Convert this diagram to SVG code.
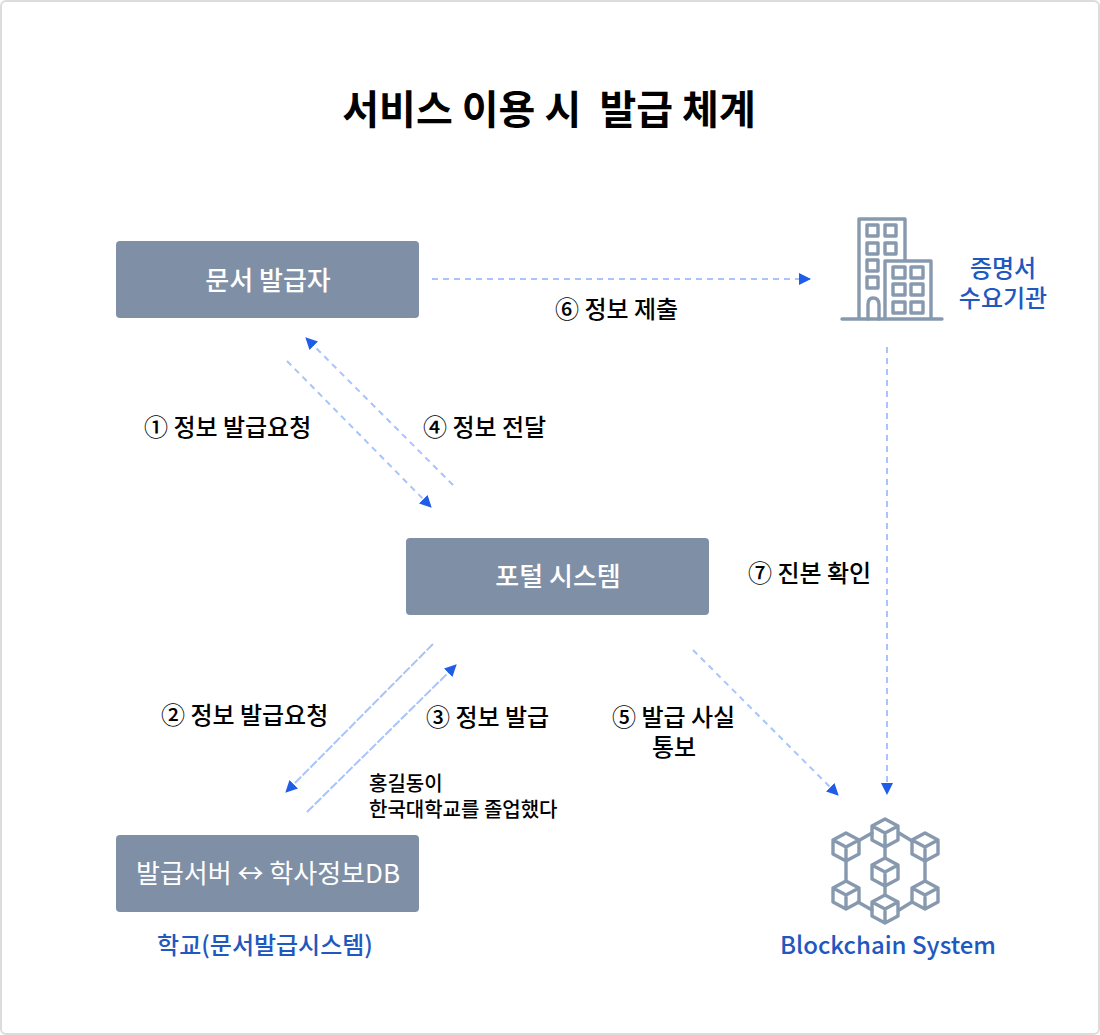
<svg xmlns="http://www.w3.org/2000/svg" width="1100" height="1035" viewBox="0 0 1100 1035">
<style>
text{font-family:"Noto Sans CJK KR","Noto Sans",sans-serif;}
.box{fill:#7f90a6;}
.bt{fill:#fff;font-size:26px;font-weight:500;text-anchor:middle;}
.lb{fill:#000;font-size:24px;font-weight:500;}
.sm{fill:#000;font-size:20px;font-weight:500;}
.bl{fill:#2158c0;font-size:24px;font-weight:500;text-anchor:middle;}
.c{fill:none;stroke:#a9c4fb;stroke-width:2;stroke-dasharray:6 5;marker-end:url(#a);}
.d{stroke-dasharray:9 2;}
.ic{fill:none;stroke:#8799ae;stroke-width:3.4;stroke-linejoin:round;stroke-linecap:round;}
</style>
<defs>
<marker id="a" markerUnits="userSpaceOnUse" markerWidth="13" markerHeight="13" refX="11" refY="6" orient="auto"><path d="M0 0L12 6L0 12z" fill="#1f5ce8"/></marker>
<g id="cube" class="ic"><path d="M0-14L13-7V7L0 14L-13 7V-7zM-13-7L0 0L13-7M0 0V14"/></g>
</defs>
<rect x="1" y="1" width="1098" height="1033" rx="5" fill="#fff" stroke="#dcdcdc" stroke-width="2"/>
<text x="549" y="124" font-size="40" font-weight="700" fill="#000" text-anchor="middle" xml:space="preserve">서비스 이용 시  발급 체계</text>
<g id="connectors">
<path class="c" d="M432 279H810"/>
<path class="c" d="M287 361L431 507"/>
<path class="c" d="M453 485L306 338"/>
<path class="c d" d="M433 644L286 792"/>
<path class="c d" d="M307 812L456 665"/>
<path class="c" d="M693 650L838 795"/>
<path class="c" d="M887 347V794"/>
</g>
<g id="n-issuer"><rect class="box" x="116" y="241" width="303" height="77" rx="4"/><text class="bt" x="268" y="290">문서 발급자</text></g>
<g id="n-portal"><rect class="box" x="406" y="538" width="303" height="77" rx="4"/><text class="bt" x="558" y="586">포털 시스템</text></g>
<g id="n-school"><rect class="box" x="116" y="835" width="303" height="77" rx="4"/><text class="bt" x="268" y="883" style="font-weight:400">발급서버 ↔ 학사정보DB</text><text class="bl" x="265" y="954">학교(문서발급시스템)</text></g>
<g id="n-agency">
<g class="ic"><path d="M842 319H942M859 319V219H905V260M885 319V261H931V319"/>
<rect x="867" y="225" width="11" height="11"/><rect x="885" y="225" width="11" height="11"/><rect x="867" y="243" width="11" height="11"/><rect x="885" y="243" width="11" height="11"/><rect x="867" y="260" width="11" height="11"/><rect x="867" y="277" width="11" height="11"/>
<path d="M868 319V305Q868 298 873 298Q879 298 879 305V319"/>
<rect x="893" y="267" width="12" height="11"/><rect x="911" y="267" width="12" height="11"/><rect x="893" y="284" width="12" height="11"/><rect x="911" y="284" width="12" height="11"/><rect x="893" y="302" width="12" height="11"/><rect x="911" y="302" width="12" height="11"/></g>
<text class="bl" x="1003" y="277">증명서</text><text class="bl" x="1003" y="307">수요기관</text></g>
<g id="n-chain">
<path class="ic" d="M858 841L872 833M899 833L912 841M846 861V881M925 861V881M885 848V858M885 886V895M858 902L872 910M899 910L912 902"/>
<use href="#cube" x="885" y="833"/><use href="#cube" x="846" y="847"/><use href="#cube" x="925" y="847"/><use href="#cube" x="885" y="872"/><use href="#cube" x="846" y="895"/><use href="#cube" x="925" y="895"/><use href="#cube" x="885" y="909"/>
<text class="bl" x="888" y="954">Blockchain System</text></g>
<g id="labels">
<text class="lb" x="144" y="436">① 정보 발급요청</text>
<text class="lb" x="423" y="436">④ 정보 전달</text>
<text class="lb" x="555" y="318">⑥ 정보 제출</text>
<text class="lb" x="748" y="582">⑦ 진본 확인</text>
<text class="lb" x="161" y="724">② 정보 발급요청</text>
<text class="lb" x="426" y="726">③ 정보 발급</text>
<text class="lb" x="612" y="726">⑤ 발급 사실</text>
<text class="lb" x="652" y="756">통보</text>
<text class="sm" x="369" y="791">홍길동이</text>
<text class="sm" x="369" y="817">한국대학교를 졸업했다</text>
</g>
</svg>
